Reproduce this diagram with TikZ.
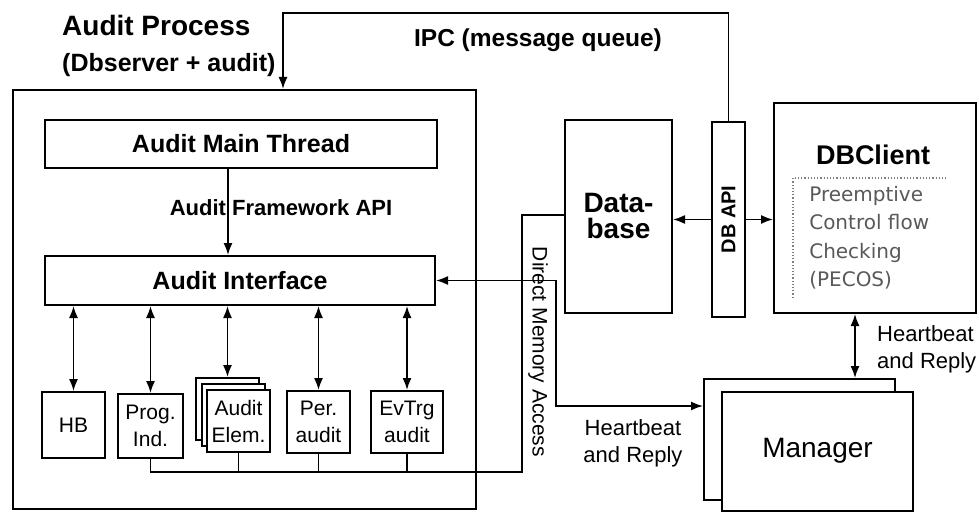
\documentclass[tikz,border=0pt]{standalone}
\usepackage{fontspec}
\setmainfont{Liberation Sans}
\newfontfamily\pecosfont{DejaVu Sans}
\usetikzlibrary{positioning,arrows.meta,calc}

\tikzset{
  box/.style={draw, line width=2pt, fill=white, inner sep=0pt},
  bigtext/.style={font=\fontsize{25}{28}\selectfont\bfseries},
  unit/.style={box, font=\fontsize{21}{27}\selectfont, align=center, minimum width=63pt, minimum height=62pt},
  hbtext/.style={font=\fontsize{22}{27}\selectfont},
  conn/.style={line width=1.6pt},
}

\begin{document}
\begin{tikzpicture}[x=1pt, y=-1pt, >={Latex[length=12pt,width=9pt]}]
\useasboundingbox (0,0) rectangle (979,513);

% audit process
\node[box, minimum width=463pt, minimum height=419pt] (proc) at (244.5,299.5) {};
\node[anchor=west, inner sep=0pt, font=\fontsize{28}{30}\selectfont\bfseries] (title) at (62,25) {Audit Process};
\node[anchor=west, inner sep=0pt, font=\fontsize{25}{28}\selectfont\bfseries] (subtitle) at (62,65) {(Dbserver + audit)};

\node[box, bigtext, minimum width=392pt, minimum height=48pt] (main) at (241,144) {Audit Main Thread};
\node[box, bigtext, minimum width=390pt, minimum height=49pt] (iface) at (240,280.5) {Audit Interface};
\draw[conn,->] ([xshift=-13pt]main.south) -- ([xshift=-13pt]main.south |- iface.north);
\node[font=\fontsize{22}{24}\selectfont\bfseries] (fwapi) at (281,208) {Audit Framework API};

% audit elements
\node[unit, minimum height=66pt] (hb) at (73.5,425) {HB};
\node[unit, minimum width=65pt, minimum height=64pt] (prog) at (150.5,426) {Prog.\\Ind.};
\node[unit] (elemc) at (227.5,409) {};
\node[unit] (elemb) at (233,415) {};
\node[unit] (elem) at (238.5,421) {Audit\\Elem.};
\node[unit] (per) at (318.5,422) {Per.\\audit};
\node[unit, minimum width=72pt] (evtrg) at (407,422) {EvTrg\\audit};

\foreach \u in {hb,prog,elemc,per,evtrg}
  \draw[conn,<->] (iface.south -| \u.north) -- (\u.north);

% database side
\node[box, font=\fontsize{28}{26}\selectfont\bfseries, align=center, minimum width=107pt, minimum height=193pt] (db) at (618.5,216.5) {Data-\\base};
\node[box, minimum width=33pt, minimum height=195pt] (dbapi) at (728.5,219.5) {};
\node[rotate=90, font=\fontsize{20}{22}\selectfont\bfseries] (dbapilbl) at (dbapi) {DB API};

\node[box, minimum width=202pt, minimum height=210pt] (client) at (875,208) {};
\node[font=\fontsize{27}{30}\selectfont\bfseries] (clienttitle) at (873,155) {DBClient};
\node[anchor=north west, align=left, text=black!65, font=\pecosfont\fontsize{20}{28.5}\selectfont, inner xsep=13pt, inner ysep=8pt, minimum width=152pt] (pecos) at (793,178) {Preemptive\\Control flow\\Checking\\(PECOS)};
\draw[black!50, dotted, line width=1.2pt] (pecos.south west) -- (pecos.north west) -- (pecos.north east);

\draw[conn,->] (dbapi.west) -- (dbapi.west -| db.east);
\draw[conn,->] (dbapi.east) -- (dbapi.east -| client.west);

% IPC
\coordinate (ipcturn) at (283,13);
\draw[conn,->] (dbapi.north) |- (ipcturn) -- (ipcturn |- proc.north);
\node[font=\fontsize{24.5}{27}\selectfont\bfseries] (ipc) at (538,40) {IPC (message queue)};

% direct memory access
\coordinate (busend) at (522,472);
\coordinate (dmatop) at (522,215);
\draw[conn] (prog.south) |- (busend) -- (dmatop) -- (dmatop -| db.west);
\foreach \u in {elem,per,evtrg}
  \draw[conn] (\u.south) -- (\u.south |- busend);
\node[rotate=-90, font=\fontsize{21}{24}\selectfont] (dma) at (538,352) {Direct Memory Access};

% manager
\node[box, minimum width=191pt, minimum height=121pt] (mgrb) at (799.5,439.5) {};
\node[box, font=\fontsize{28}{30}\selectfont, minimum width=191pt, minimum height=119pt] (mgr) at (817.5,451) {Manager};

\coordinate (hbturn) at (556,406);
\draw[conn,<->] (iface.east) -| (hbturn) -- (hbturn -| mgrb.west);
\node[hbtext, align=center] (hblow) at (633,443) {Heartbeat\\and Reply};
\draw[conn,<->] ([xshift=-20pt]client.south) -- ([xshift=-20pt]client.south |- mgrb.north);
\node[hbtext, align=left, anchor=west, inner sep=0pt] (hbright) at (877,349) {Heartbeat\\and Reply};

\end{tikzpicture}
\end{document}
